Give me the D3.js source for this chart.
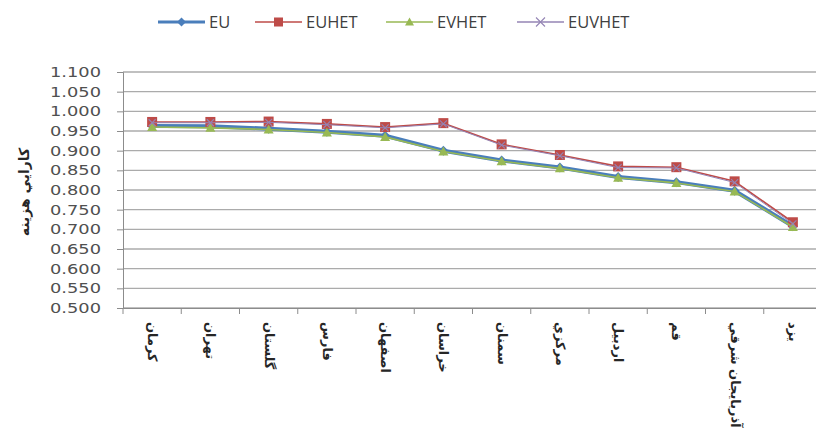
<!DOCTYPE html>
<html><head><meta charset="utf-8">
<script src="https://cdn.jsdelivr.net/npm/d3@7"></script>
<style>body{margin:0;background:#fff}svg{display:block}</style>
</head><body>
<svg id="c" width="816" height="444"></svg>
<script>
const categories = ["كرمان","تهران","گلستان","فارس","اصفهان","خراسان","سمنان","مركزي","اردبيل","قم","آذربايجان شرقي","يزد"];
const EU     = [0.963,0.962,0.956,0.948,0.938,0.900,0.875,0.857,0.833,0.820,0.798,0.708];
const EUHET  = [0.973,0.973,0.974,0.968,0.960,0.970,0.916,0.889,0.860,0.858,0.822,0.718];
const EVHET  = [0.960,0.958,0.954,0.946,0.935,0.898,0.873,0.855,0.831,0.818,0.796,0.706];
const EUVHET = [0.971,0.971,0.972,0.966,0.958,0.968,0.914,0.887,0.857,0.856,0.819,0.714];
const yTicks = [0.5,0.55,0.6,0.65,0.7,0.75,0.8,0.85,0.9,0.95,1.0,1.05,1.1];
const seriesNames = ["EU","EUHET","EVHET","EUVHET"];

(function(){
const svg = d3.select("#c");
const pLeft = 123, pRight = 822, pTop = 72, pBottom = 308;
const x = d3.scaleBand().domain(categories).range([pLeft, pRight]).padding(0);
const y = d3.scaleLinear().domain([0.5, 1.1]).range([pBottom, pTop]);

// gridlines
svg.append("g").selectAll("line").data(yTicks).join("line")
  .attr("x1", pLeft).attr("x2", pRight)
  .attr("y1", d => y(d)).attr("y2", d => y(d))
  .attr("stroke", "#ababab").attr("stroke-width", 1.4);

// y axis
const ya = svg.append("g").attr("transform", `translate(${pLeft},0)`)
  .call(d3.axisLeft(y).tickValues(yTicks).tickFormat(d3.format(".3f")).tickSize(6));
ya.select(".domain").attr("stroke", "#8c8c8c");
ya.selectAll(".tick line").attr("stroke", "#8c8c8c");
ya.selectAll("text").attr("font-family", "DejaVu Sans").attr("font-size", 14.5)
  .attr("fill", "#505050").attr("x", -22).attr("text-anchor", "end")
  .attr("textLength", 51).attr("lengthAdjust", "spacingAndGlyphs");

// x axis
const xa = svg.append("g").attr("transform", `translate(0,${pBottom})`)
  .call(d3.axisBottom(x).tickSize(0).tickFormat(""));
xa.select(".domain").attr("stroke", "#8c8c8c");
const bounds = categories.map(c => x(c)).concat([pRight]);
xa.append("g").selectAll("line").data(bounds).join("line")
  .attr("x1", d => d).attr("x2", d => d).attr("y1", 0).attr("y2", 6)
  .attr("stroke", "#8c8c8c");
svg.append("g").selectAll("text").data(categories).join("text")
  .attr("transform", d => `translate(${x(d) + x.bandwidth()/2 - 4},${pBottom + 14}) rotate(90)`)
  .attr("font-family", "DejaVu Sans").attr("font-size", 13).attr("font-weight", "bold")
  .attr("fill", "#262626").attr("text-anchor", "start")
  .text(d => d);

// y label
svg.append("text")
  .attr("transform", `translate(29,192) rotate(-90)`)
  .attr("text-anchor", "middle").attr("font-family", "DejaVu Sans")
  .attr("font-size", 14).attr("font-weight", "bold").attr("fill", "#262626")
  .text("كارايي هزينه");

const cx = d => x(d) + x.bandwidth()/2;
const line = vals => d3.line().x((v,i) => cx(categories[i])).y(v => y(v))(vals);

const styles = {
  EU:     {data: EU,     color: "#4A7EBB", w: 4,   shape: "diamond"},
  EUHET:  {data: EUHET,  color: "#BE4B48", w: 1.6, shape: "square"},
  EVHET:  {data: EVHET,  color: "#98B954", w: 1.6, shape: "triangle"},
  EUVHET: {data: EUVHET, color: "#9585B5", w: 1.0, shape: "x"}
};

function marker(g, shape, color, px, py, s) {
  if (shape === "diamond") {
    g.append("path").attr("d", `M${px},${py-s}L${px+s},${py}L${px},${py+s}L${px-s},${py}Z`).attr("fill", color);
  } else if (shape === "square") {
    g.append("rect").attr("x", px-s).attr("y", py-s).attr("width", 2*s).attr("height", 2*s).attr("fill", color);
  } else if (shape === "triangle") {
    g.append("path").attr("d", `M${px},${py-s}L${px+s},${py+s*0.8}L${px-s},${py+s*0.8}Z`).attr("fill", color);
  } else {
    g.append("path").attr("d", `M${px-s},${py-s}L${px+s},${py+s}M${px-s},${py+s}L${px+s},${py-s}`)
      .attr("stroke", color).attr("stroke-width", 1.1);
  }
}

seriesNames.forEach(name => {
  const st = styles[name];
  const g = svg.append("g");
  g.append("path").attr("d", line(st.data)).attr("fill", "none")
    .attr("stroke", st.color).attr("stroke-width", st.w).attr("stroke-linejoin", "round");
  st.data.forEach((v, i) => marker(g, st.shape, st.color, cx(categories[i]), y(v), name === "EUVHET" ? 3.5 : 5));
});

// legend
const legX = [158, 255, 386, 517];
seriesNames.forEach((name, i) => {
  const st = styles[name];
  const g = svg.append("g");
  const lx = legX[i], ly = 22;
  g.append("line").attr("x1", lx).attr("x2", lx + 47).attr("y1", ly).attr("y2", ly)
    .attr("stroke", st.color).attr("stroke-width", name === "EU" ? 3 : 1.6);
  marker(g, st.shape, st.color, lx + 23.5, ly, 4.5);
  g.append("text").attr("x", lx + 51).attr("y", ly + 6)
    .attr("font-family", "Open Sans").attr("font-size", 16.5).attr("fill", "#404040")
    .text(name);
});
})();
</script>
</body></html>
